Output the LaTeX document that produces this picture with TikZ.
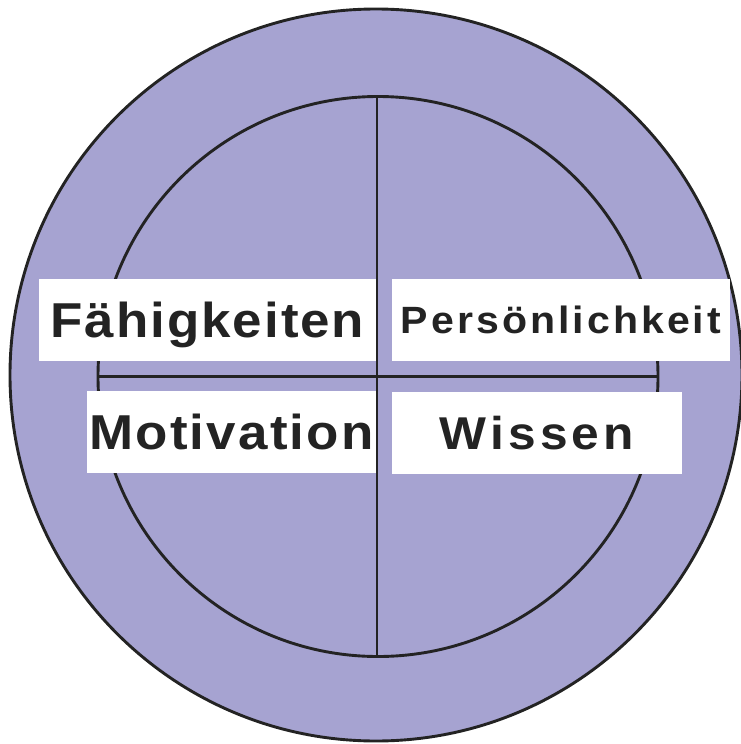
\documentclass[tikz,border=0pt]{standalone}
\usepackage{fontspec}
\setmainfont{Liberation Sans}
\definecolor{ringfill}{RGB}{166,163,209}
\definecolor{inkdark}{RGB}{35,35,35}

\tikzset{
  cardbox/.style n args={3}{fill=white, inner sep=0pt, minimum height=82pt,
    text height=#3, text depth=0pt, text=inkdark,
    font=\fontsize{#1}{#1}\selectfont\bfseries\addfontfeature{FakeStretch=1.08,LetterSpace=#2}}
}

\begin{document}
\begin{tikzpicture}[x=1pt, y=-1pt, line width=2.9pt]
  \useasboundingbox (0,0) rectangle (740,744);

  % Rings
  \coordinate (outer) at (376,375);
  \coordinate (inner) at (378,376.5);
  \draw[draw=inkdark, fill=ringfill] (outer) circle[radius=366pt];
  \draw[draw=inkdark] (inner) circle[radius=280pt];

  % Cross
  \draw[draw=inkdark] ([yshift=280pt]inner -| 377,0) -- ([yshift=-280pt]inner -| 377,0);
  \draw[draw=inkdark] ([xshift=-280pt]inner) -- ([xshift=280pt]inner);

  % Nodes
  \node[cardbox={49}{4}{35pt}, minimum width=337pt] (faehig) at (207.5,320) {Fähigkeiten};
  \node[cardbox={38}{8}{27pt}, minimum width=338pt] (pers) at (561,320) {Persönlichkeit};
  \node[cardbox={49}{4.5}{35pt}, minimum width=289pt] (motiv) at (231.5,432) {Motivation};
  \node[cardbox={46}{9}{33pt}, minimum width=290pt] (wissen) at (537,432.5) {Wissen};
\end{tikzpicture}
\end{document}
